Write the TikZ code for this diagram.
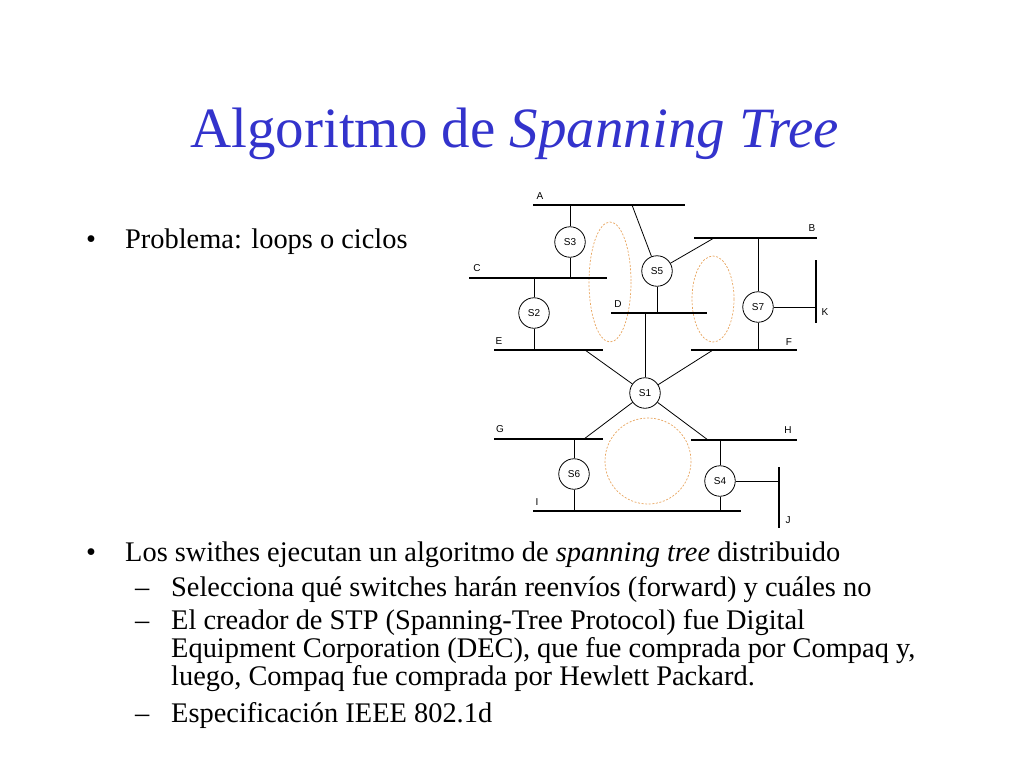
\documentclass[tikz,border=0pt]{standalone}
\usepackage{fontspec}
\setmainfont{Liberation Serif}
\setsansfont{Liberation Sans}
\definecolor{titleblue}{RGB}{51,51,204}
\definecolor{loopor}{RGB}{232,165,95}
\begin{document}
\begin{tikzpicture}[x=1pt,y=-1pt,
  bus/.style={line width=2.6pt},
  link/.style={line width=0.8pt},
  sw/.style={circle,draw,line width=0.8pt,minimum size=30.5pt,inner sep=0pt,font=\sffamily\fontsize{10}{12}\selectfont},
  lbl/.style={font=\sffamily\fontsize{10}{12}\selectfont,inner sep=0pt,anchor=base},
  loop/.style={draw=loopor,line width=0.7pt,dash pattern=on 2pt off 1.6pt},
  txt/.style={anchor=base west,inner sep=0pt,font=\fontsize{28.4}{30}\selectfont},
  ttl/.style={anchor=base west,inner sep=0pt,text=titleblue,font=\fontsize{57}{60}\selectfont}
]
\useasboundingbox (0,0) rectangle (1024,768);
% title
\node[ttl] (title) at (190,147) {Algoritmo de \textit{Spanning Tree}};
% bullets
\node[txt] (b1) at (86,248) {•};
\node[txt] (t1) at (125,248) {Problema: loops o ciclos};
\node[txt] (b2) at (86,561) {•};
\node[txt] (t2) at (125,561) {Los swithes ejecutan un algoritmo de \textit{spanning tree} distribuido};
\node[txt] (d1) at (135,596) {–};
\node[txt] (s1) at (171,596) {Selecciona qué switches harán reenvíos (forward) y cuáles no};
\node[txt] (d2) at (135,629) {–};
\node[txt] (s2a) at (171,629) {El creador de STP (Spanning-Tree Protocol) fue Digital};
\node[txt] (s2b) at (171,657) {Equipment Corporation (DEC), que fue comprada por Compaq y,};
\node[txt] (s2c) at (171,685) {luego, Compaq fue comprada por Hewlett Packard.};
\node[txt] (d3) at (135,722) {–};
\node[txt] (s3) at (171,722) {Especificación IEEE 802.1d};
% loops
\draw[loop] (610,282) ellipse [x radius=21, y radius=60];
\draw[loop] (713,299) ellipse [x radius=21, y radius=43];
\draw[loop] (648,461) circle [radius=43];
% buses
\draw[bus] (533,205) coordinate (A1) -- (685,205) coordinate (A2);
\draw[bus] (694,238) coordinate (B1) -- (817,238) coordinate (B2);
\draw[bus] (469,278) coordinate (C1) -- (607,278) coordinate (C2);
\draw[bus] (611,313) coordinate (D1) -- (707,313) coordinate (D2);
\draw[bus] (494,350) coordinate (E1) -- (603,350) coordinate (E2);
\draw[bus] (691,350) coordinate (F1) -- (797,350) coordinate (F2);
\draw[bus] (494,439) coordinate (G1) -- (603,439) coordinate (G2);
\draw[bus] (691,440) coordinate (H1) -- (797,440) coordinate (H2);
\draw[bus] (533,511) coordinate (I1) -- (741,511) coordinate (I2);
\draw[bus] (779,467) coordinate (J1) -- (779,528) coordinate (J2);
\draw[bus] (816,260) coordinate (K1) -- (816,323) coordinate (K2);
% bus labels
\node[lbl] (lA) at (540,199) {A};
\node[lbl] (lB) at (812,231) {B};
\node[lbl] (lC) at (477,271) {C};
\node[lbl] (lD) at (618,307) {D};
\node[lbl] (lE) at (499,344) {E};
\node[lbl] (lF) at (789,345) {F};
\node[lbl] (lG) at (500,432) {G};
\node[lbl] (lH) at (788,433) {H};
\node[lbl] (lI) at (537,505) {I};
\node[lbl] (lJ) at (788,523) {J};
\node[lbl] (lK) at (825,315) {K};
% switches
\node[sw] (S3) at (570,242) {S3};
\node[sw] (S2) at (534,313) {S2};
\node[sw] (S5) at (657,271) {S5};
\node[sw] (S7) at (758,307) {S7};
\node[sw] (S1) at (645,393) {S1};
\node[sw] (S6) at (574,474) {S6};
\node[sw] (S4) at (720,481) {S4};
% attachment points
\coordinate (a3) at (570,205);
\coordinate (c3) at (570,278);
\coordinate (c2) at (534,278);
\coordinate (e2) at (534,350);
\coordinate (a5) at (632,205);
\coordinate (b5) at (714,238);
\coordinate (d5) at (657,313);
\coordinate (b7) at (758,238);
\coordinate (f7) at (758,350);
\coordinate (k7) at (816,307);
\coordinate (d1) at (645,313);
\coordinate (e1) at (585,350);
\coordinate (f1) at (713,350);
\coordinate (g1) at (584,439);
\coordinate (h1) at (708,440);
\coordinate (g6) at (574,439);
\coordinate (i6) at (574,511);
\coordinate (h4) at (720,440);
\coordinate (i4) at (720,511);
\coordinate (j4) at (779,481);
% links
\draw[link] (a3) -- (S3) -- (c3);
\draw[link] (c2) -- (S2) -- (e2);
\draw[link] (a5) -- (S5);
\draw[link] (b5) -- (S5);
\draw[link] (S5) -- (d5);
\draw[link] (b7) -- (S7) -- (f7);
\draw[link] (S7) -- (k7);
\draw[link] (d1) -- (S1);
\draw[link] (e1) -- (S1);
\draw[link] (f1) -- (S1);
\draw[link] (S1) -- (g1);
\draw[link] (S1) -- (h1);
\draw[link] (g6) -- (S6) -- (i6);
\draw[link] (h4) -- (S4) -- (i4);
\draw[link] (S4) -- (j4);
\end{tikzpicture}
\end{document}
